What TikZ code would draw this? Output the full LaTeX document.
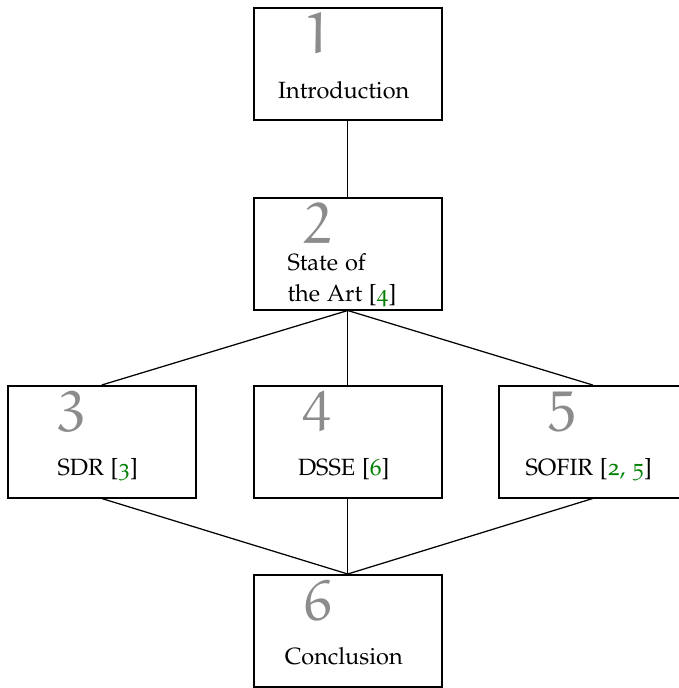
\documentclass[tikz,border=0pt]{standalone}
\usepackage[T1]{fontenc}
\usepackage[osf]{mathpazo}
\definecolor{halfgray}{gray}{0.55}
\definecolor{webgreen}{rgb}{0,0.5,0}
\newcommand{\cnum}[1]{{\color{halfgray}\fontsize{23}{23}\usefont{U}{eur}{m}{n}#1}}
\newcommand{\cit}[1]{[{\color{webgreen}#1}]}
\begin{document}
\begin{tikzpicture}[x=0.4pt,y=-0.4pt,
  box/.style={draw, line width=0.6pt, minimum width=75.2pt, minimum height=44.8pt, inner sep=0pt, anchor=north west},
  numlbl/.style={inner sep=0pt, anchor=base west},
  txt/.style={inner sep=0pt, anchor=base, font=\fontsize{9.4}{12}\selectfont},
  txtl/.style={inner sep=0pt, anchor=base west, font=\fontsize{9.4}{12}\selectfont},
  conn/.style={line width=0.5pt}]
\useasboundingbox (0,0) rectangle (679,688);
\clip (0,0) rectangle (679,688);
% boxes
\node[box] (b1) at (253,7) {};
\node[box] (b2) at (253,197) {};
\node[box] (b3) at (7,385) {};
\node[box] (b4) at (253,385) {};
\node[box] (b5) at (498,385) {};
\node[box] (b6) at (253,574) {};
% numbers
\node[numlbl] (n1) at ([xshift=20pt,yshift=-18.4pt]b1.north west) {\cnum{1}};
\node[numlbl] (n2) at ([xshift=20pt,yshift=-18.4pt]b2.north west) {\cnum{2}};
\node[numlbl] (n3) at ([xshift=20pt,yshift=-18.4pt]b3.north west) {\cnum{3}};
\node[numlbl] (n4) at ([xshift=20pt,yshift=-18.4pt]b4.north west) {\cnum{4}};
\node[numlbl] (n5) at ([xshift=20pt,yshift=-18.4pt]b5.north west) {\cnum{5}};
\node[numlbl] (n6) at ([xshift=20pt,yshift=-18.4pt]b6.north west) {\cnum{6}};
% texts
\node[txt] (t1) at ([xshift=-1.6pt,yshift=-36.4pt]b1.north) {Introduction};
\node[txtl] (t2a) at ([xshift=13.6pt,yshift=-29.2pt]b2.north west) {State of};
\node[txtl] (t2b) at ([xshift=13.6pt,yshift=-41.6pt]b2.north west) {the Art \cit{4}};
\node[txt] (t3) at ([xshift=-1.6pt,yshift=-36pt]b3.north) {SDR \cit{3}};
\node[txt] (t4) at ([xshift=-1.6pt,yshift=-36pt]b4.north) {DSSE \cit{6}};
\node[txt] (t5) at ([xshift=-1.6pt,yshift=-36pt]b5.north) {SOFIR \cit{2, 5}};
\node[txt] (t6) at ([xshift=-1.6pt,yshift=-36pt]b6.north) {Conclusion};
% connectors
\draw[conn] (b1.south) -- (b2.north);
\draw[conn] (b2.south) -- (b3.north);
\draw[conn] (b2.south) -- (b4.north);
\draw[conn] (b2.south) -- (b5.north);
\draw[conn] (b3.south) -- (b6.north);
\draw[conn] (b4.south) -- (b6.north);
\draw[conn] (b5.south) -- (b6.north);
\end{tikzpicture}
\end{document}
